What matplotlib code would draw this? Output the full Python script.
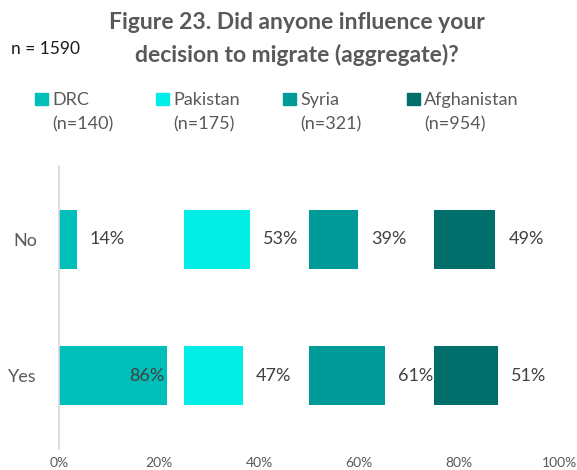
import matplotlib
matplotlib.use("Agg")
import matplotlib.pyplot as plt
from matplotlib.patches import Rectangle

plt.rcParams["font.family"] = ["Lato", "DejaVu Sans"]

# data
countries = ["DRC", "Pakistan", "Syria", "Afghanistan"]
sample_sizes = [140, 175, 321, 954]
answers = ["No", "Yes"]
no_pct = [14, 53, 39, 49]
yes_pct = [86, 47, 61, 51]
total_n = 1590
title_lines = ["Figure 23. Did anyone influence your",
               "decision to migrate (aggregate)?"]

colors = ["#00BFB9", "#00EEE5", "#009A98", "#006E6A"]
gray = "#595959"
label_col = "#404040"

W, H = 577, 470
fig = plt.figure(figsize=(W / 100, H / 100), dpi=100)
ax = fig.add_axes([59 / W, 1 - 449 / H, 500 / W, 283 / H])

panel = 1 / len(countries)
bar_h = 0.432
values = [no_pct, yes_pct]
for i, (name, c) in enumerate(zip(countries, colors)):
    left = i * panel
    for j, vals in enumerate(values):
        w = vals[i] / 100 * panel
        ax.barh(j, w, left=left, height=bar_h, color=c)
        end = left + w
        txt = f"{vals[i]}%"
        # put label inside when it would run into the next panel
        if end + 0.026 + 0.07 > left + panel + 1e-9:
            ax.text(end - 0.004, j, txt, ha="right", va="center",
                    fontsize=13, color=label_col)
        else:
            ax.text(end + 0.026, j, txt, ha="left", va="center",
                    fontsize=13, color=label_col)

ax.set_xlim(0, 1)
ax.set_ylim(1.535, -0.538)
ax.set_yticks(range(len(answers)))
ax.set_yticklabels(answers)
ax.set_xticks([0, 0.2, 0.4, 0.6, 0.8, 1.0])
ax.set_xticklabels(["0%", "20%", "40%", "60%", "80%", "100%"])
ax.tick_params(axis="y", length=0, pad=16, labelsize=13, labelcolor=gray)
ax.tick_params(axis="x", length=0, pad=6, labelsize=10, labelcolor=gray)
for s in ["top", "right", "bottom"]:
    ax.spines[s].set_visible(False)
ax.spines["left"].set_color("#d9d9d9")
ax.spines["left"].set_linewidth(1.2)

# title
for k, line in enumerate(title_lines):
    yb = [29, 62.5][k]
    fig.text(297 / W, 1 - yb / H, line, ha="center", va="baseline",
             fontsize=16.5, fontweight="bold", color=gray)

fig.text(11 / W, 1 - 54 / H, f"n = {total_n}", ha="left", va="baseline",
         fontsize=12.5, color="#1a1a1a")

# legend
leg_x = [35, 156, 283, 407]
for x0, name, n, c in zip(leg_x, countries, sample_sizes, colors):
    fig.add_artist(Rectangle((x0 / W, 1 - 105 / H), 13 / W, 12 / H,
                             transform=fig.transFigure, color=c))
    fig.text((x0 + 17) / W, 1 - 105 / H, name, ha="left", va="baseline",
             fontsize=13, color=gray)
    fig.text((x0 + 17) / W, 1 - 129 / H, f"(n={n})", ha="left",
             va="baseline", fontsize=13, color=gray)

fig.savefig("out.png", dpi=100)
